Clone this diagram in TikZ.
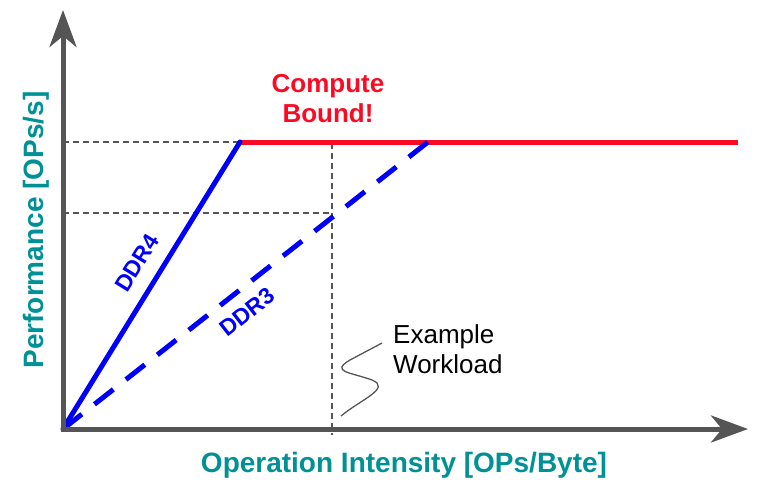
\documentclass[tikz,border=0pt]{standalone}
\usepackage{fontspec}
\setmainfont{Liberation Sans}
\usetikzlibrary{arrows.meta}
\definecolor{axisgray}{RGB}{85,85,85}
\definecolor{teal}{RGB}{0,145,150}
\definecolor{cred}{RGB}{250,10,35}
\definecolor{cblue}{RGB}{0,0,250}
\begin{document}
\begin{tikzpicture}[x=1pt,y=-1pt,
  axis/.style={draw=axisgray,line width=5pt,
    {Stealth[length=37pt,width=27pt,inset=11pt]}-{Stealth[length=37pt,width=27pt,inset=11pt]}},
  guide/.style={draw=axisgray,line width=1.1pt,dash pattern=on 6pt off 4pt},
  roof/.style={draw=cblue,line width=5pt},
  roofdash/.style={draw=cblue,line width=5pt,dash pattern=on 24pt off 16pt},
  flat/.style={draw=cred,line width=5pt},
  axislabel/.style={text=teal,font=\bfseries\fontsize{28}{32}\selectfont,inner sep=0pt},
  memlabel/.style={text=cblue,font=\bfseries\fontsize{23}{27}\selectfont,inner sep=0pt},
  boundlabel/.style={text=cred,font=\bfseries\fontsize{26}{30}\selectfont,align=center,inner sep=0pt},
  note/.style={text=black,font=\fontsize{26}{30}\selectfont,align=left,inner sep=0pt},
  squiggle/.style={draw=axisgray,line width=1.3pt}]
\useasboundingbox (0,0) rectangle (757,491);
% coordinates
\coordinate (ytip) at (63,10);
\coordinate (O) at (63,429);
\coordinate (xtip) at (748,429);
\coordinate (k4) at (240,142);
\coordinate (k3) at (428,142);
\coordinate (rend) at (738,142);
\coordinate (g1) at (63,142);
\coordinate (g2) at (63,213);
\coordinate (w1) at (332,142);
\coordinate (w2) at (332,213);
\coordinate (w3) at (332,435);
\coordinate (s1) at (341,416);
\coordinate (s2) at (382,343);
% guides
\draw[guide] (g1) -- (w1) -- (w3);
\draw[guide] (g2) -- (w2);
% roofs
\draw[flat] (k4) -- (rend);
\draw[roofdash] (O) -- (k3);
\draw[roof,line cap=round] (O) -- (k4);
% axes
\draw[axis] (ytip) -- (O) -- (xtip);
% squiggle
\draw[squiggle] (s1) .. controls (360,400) and (392,388) .. (372,380)
  .. controls (350,372) and (330,372) .. (350,360) -- (s2);
% labels
\node[axislabel,anchor=base] (xl) at (404,472) {Operation Intensity [OPs/Byte]};
\node[axislabel,anchor=base,rotate=90] (yl) at (43,230) {Performance [OPs/s]};
\node[memlabel,rotate=58.2] (d4) at (137,263) {DDR4};
\node[memlabel,rotate=38] (d3) at (247,312) {DDR3};
\node[boundlabel] (cb) at (328,99) {Compute\\Bound!};
\node[note,anchor=west] (ex) at (393,349) {Example\\Workload};
\end{tikzpicture}
\end{document}
